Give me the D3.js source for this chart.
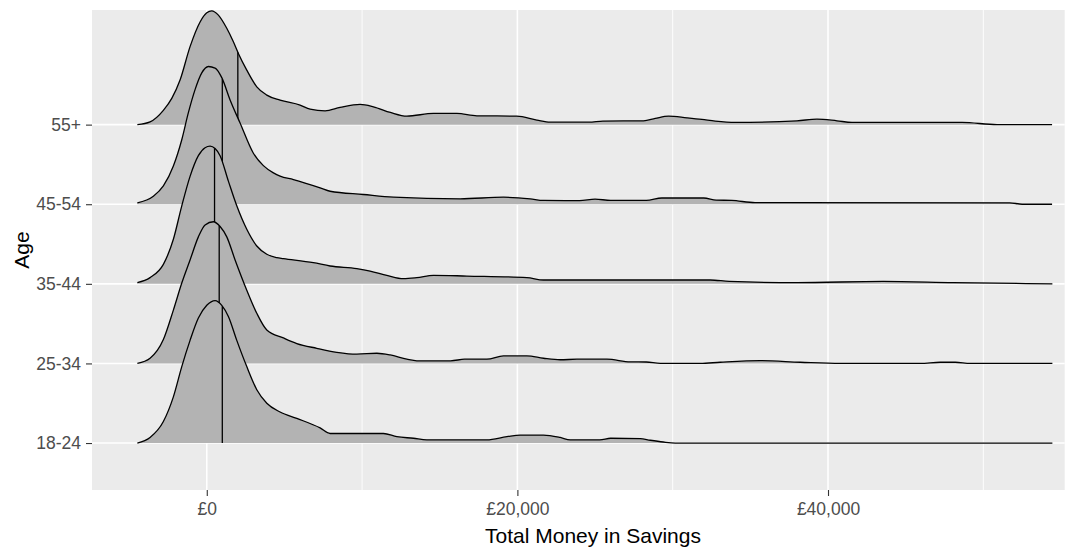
<!DOCTYPE html>
<html>
<head>
<meta charset="utf-8">
<script src="https://cdn.jsdelivr.net/npm/d3@7"></script>
<style>
  html, body { margin: 0; padding: 0; background: #ffffff; }
  svg { display: block; font-family: "Liberation Sans", Arial, sans-serif; }
</style>
</head>
<body>
<svg id="chart" width="1068" height="549"></svg>
<script>
// Age groups, bottom to top
const ageGroups = ["18-24", "25-34", "35-44", "45-54", "55+"];

// Median savings (£) per age group
const medians = [1000, 800, 500, 1000, 2000];

// Kernel density estimates: [savings in £, ridge height in row units]
const density_18_24 = [
  [-4470, 0.00], [-3652, 0.07], [-2795, 0.27], [-2151, 0.58], [-1610, 0.96],
  [-1076, 1.29], [-541, 1.57], [0, 1.73], [535, 1.79], [966, 1.73],
  [1391, 1.59], [1932, 1.29], [2576, 0.96], [3221, 0.67], [3865, 0.50],
  [4721, 0.39], [5797, 0.31], [7298, 0.19], [7942, 0.12], [11375, 0.12],
  [12238, 0.08], [13307, 0.06], [14170, 0.04], [18035, 0.04], [19323, 0.08],
  [20180, 0.10], [21680, 0.10], [22757, 0.07], [23402, 0.04], [25300, 0.04],
  [26000, 0.06], [27910, 0.055], [28554, 0.035], [29390, 0.013], [30163, 0.0],
  [54447, 0.0]
];
const density_25_34 = [
  [-4470, 0.00], [-3652, 0.065], [-2795, 0.30], [-2151, 0.67], [-1610, 1.01],
  [-1076, 1.30], [-541, 1.59], [-109, 1.74], [425, 1.78], [857, 1.72],
  [1288, 1.59], [1823, 1.30], [2576, 0.92], [3221, 0.63], [3865, 0.42],
  [4934, 0.32], [5797, 0.25], [7085, 0.19], [8373, 0.14], [9662, 0.116],
  [10950, 0.128], [11806, 0.107], [12882, 0.053], [13526, 0.033], [15700, 0.033],
  [16600, 0.053], [18035, 0.055], [19104, 0.094], [20611, 0.094], [21680, 0.065],
  [22757, 0.046], [23832, 0.053], [25764, 0.053], [27265, 0.02], [28300, 0.018],
  [29200, 0.0], [31774, 0.0], [33062, 0.015], [35638, 0.035], [38215, 0.015],
  [40791, 0.0], [45943, 0.0], [47231, 0.015], [48198, 0.015], [49164, 0.0],
  [54447, 0.0]
];
const density_35_44 = [
  [-4470, 0.015], [-3652, 0.078], [-2795, 0.245], [-2151, 0.56], [-1610, 0.98],
  [-1076, 1.35], [-541, 1.61], [-109, 1.71], [213, 1.73], [535, 1.70],
  [857, 1.61], [1391, 1.29], [1932, 0.98], [2576, 0.685], [3221, 0.475],
  [3865, 0.371], [4509, 0.329], [4934, 0.317], [6866, 0.266], [7942, 0.224],
  [9662, 0.191], [10518, 0.161], [11594, 0.107], [12663, 0.065], [13526, 0.078],
  [14596, 0.107], [16747, 0.098], [20611, 0.078], [21680, 0.048], [32418, 0.048],
  [33642, 0.031], [38022, 0.015], [43561, 0.031], [48070, 0.015], [54447, 0.0]
];
const density_45_54 = [
  [-4470, 0.018], [-3440, 0.10], [-2795, 0.23], [-2151, 0.48], [-1610, 0.81],
  [-1185, 1.15], [-754, 1.44], [-322, 1.65], [103, 1.73], [535, 1.71],
  [966, 1.59], [1501, 1.31], [2145, 1.02], [3002, 0.64], [3646, 0.485],
  [4290, 0.394], [4721, 0.352], [5578, 0.31], [7298, 0.206], [7942, 0.163],
  [10087, 0.122], [12019, 0.088], [16315, 0.068], [19104, 0.088], [20824, 0.068],
  [21680, 0.048], [24000, 0.046], [25000, 0.065], [26000, 0.048], [28300, 0.048],
  [29300, 0.078], [32000, 0.078], [32800, 0.052], [33800, 0.048], [35300, 0.02],
  [51700, 0.018], [52500, 0.0], [54427, 0.0]
];
const density_55_plus = [
  [-4470, 0.00], [-3652, 0.035], [-2795, 0.18], [-2254, 0.33], [-1720, 0.56],
  [-1076, 0.98], [-431, 1.29], [0, 1.405], [322, 1.43], [747, 1.376],
  [1288, 1.21], [1713, 1.04], [2035, 0.894], [2576, 0.685], [3221, 0.475],
  [3865, 0.371], [4721, 0.308], [6009, 0.245], [6653, 0.195], [7620, 0.173],
  [8586, 0.216], [9874, 0.254], [10731, 0.224], [11824, 0.153], [12882, 0.107],
  [14596, 0.141], [16103, 0.141], [17391, 0.111], [19968, 0.107], [21256, 0.057],
  [22112, 0.031], [24600, 0.031], [25500, 0.044], [28122, 0.048], [28876, 0.078],
  [29733, 0.107], [30918, 0.085], [31883, 0.065], [32740, 0.044], [34028, 0.028],
  [38002, 0.048], [39290, 0.069], [40578, 0.048], [41544, 0.028], [48630, 0.028],
  [50884, 0.0], [54427, 0.0]
];
const densities = [density_18_24, density_25_34, density_35_44, density_45_54, density_55_plus];

// Axis ticks
const xMajorTicks = [0, 20000, 40000];
const xMinorTicks = [10000, 30000, 50000];
const xTickLabels = ["£0", "£20,000", "£40,000"];

// Layout
const svg = d3.select("#chart");
const panel = { left: 92, right: 1064.7, top: 10, bottom: 490 };

const x = d3.scaleLinear().domain([-7390, 55240]).range([panel.left, panel.right]);
const y = d3.scaleLinear().domain([0.41, 6.44]).range([panel.bottom, panel.top]);

// Panel background
svg.append("rect")
  .attr("x", panel.left).attr("y", panel.top)
  .attr("width", panel.right - panel.left).attr("height", panel.bottom - panel.top)
  .attr("fill", "#EBEBEB");

const grid = svg.append("g");
grid.selectAll("line.minor").data(xMinorTicks).join("line")
  .attr("x1", d => x(d)).attr("x2", d => x(d))
  .attr("y1", panel.top).attr("y2", panel.bottom)
  .attr("stroke", "#ffffff").attr("stroke-width", 0.9);
grid.selectAll("line.majorx").data(xMajorTicks).join("line")
  .attr("x1", d => x(d)).attr("x2", d => x(d))
  .attr("y1", panel.top).attr("y2", panel.bottom)
  .attr("stroke", "#ffffff").attr("stroke-width", 1.6);
grid.selectAll("line.majory").data(ageGroups).join("line")
  .attr("x1", panel.left).attr("x2", panel.right)
  .attr("y1", (d, i) => y(i + 1)).attr("y2", (d, i) => y(i + 1))
  .attr("stroke", "#ffffff").attr("stroke-width", 1.6);

// Linear interpolation of a density at a given savings value
function heightAt(pts, v) {
  for (let k = 1; k < pts.length; k++) {
    if (v <= pts[k][0]) {
      const [x0, h0] = pts[k - 1], [x1, h1] = pts[k];
      return h0 + (h1 - h0) * (v - x0) / (x1 - x0);
    }
  }
  return pts[pts.length - 1][1];
}

// Ridges, drawn from the top row down so lower rows overlap upper ones
const ridges = svg.append("g");
for (let i = ageGroups.length - 1; i >= 0; i--) {
  const pos = i + 1;
  const pts = densities[i];
  const area = d3.area()
    .x(d => x(d[0]))
    .y0(y(pos))
    .y1(d => y(pos + d[1]))
    .curve(d3.curveMonotoneX);
  const line = d3.line()
    .x(d => x(d[0]))
    .y(d => y(pos + d[1]))
    .curve(d3.curveMonotoneX);

  const g = ridges.append("g");
  g.append("path").datum(pts).attr("d", area).attr("fill", "#B3B3B3");
  g.append("path").datum(pts).attr("d", line)
    .attr("fill", "none").attr("stroke", "#000000").attr("stroke-width", 1.3)
    .attr("stroke-linejoin", "round");
  const m = medians[i];
  g.append("line")
    .attr("x1", x(m)).attr("x2", x(m))
    .attr("y1", y(pos)).attr("y2", y(pos + heightAt(pts, m)))
    .attr("stroke", "#000000").attr("stroke-width", 1.3);
}

// Axes
const xAxis = d3.axisBottom(x)
  .tickValues(xMajorTicks)
  .tickFormat((d, i) => xTickLabels[i])
  .tickSize(6).tickPadding(7);
const gx = svg.append("g").attr("transform", `translate(0,${panel.bottom})`).call(xAxis);
gx.select(".domain").remove();
gx.selectAll(".tick line").attr("stroke", "#333333").attr("stroke-width", 1.1);
gx.selectAll(".tick text").attr("fill", "#4D4D4D")
  .style("font-size", "17.5px").style("font-family", "'Liberation Sans', Arial, sans-serif");

const yAxis = d3.axisLeft(y)
  .tickValues(ageGroups.map((d, i) => i + 1))
  .tickFormat((d, i) => ageGroups[i])
  .tickSize(6).tickPadding(5);
const gy = svg.append("g").attr("transform", `translate(${panel.left},0)`).call(yAxis);
gy.select(".domain").remove();
gy.selectAll(".tick line").attr("stroke", "#333333").attr("stroke-width", 1.1);
gy.selectAll(".tick text").attr("fill", "#4D4D4D")
  .style("font-size", "17.5px").style("font-family", "'Liberation Sans', Arial, sans-serif");

// Axis titles
svg.append("text")
  .attr("x", 593).attr("y", 543)
  .attr("text-anchor", "middle")
  .style("font-size", "21px").attr("fill", "#000000")
  .text("Total Money in Savings");
svg.append("text")
  .attr("transform", "translate(29,250) rotate(-90)")
  .attr("text-anchor", "middle")
  .style("font-size", "21px").attr("fill", "#000000")
  .text("Age");
</script>
</body>
</html>
